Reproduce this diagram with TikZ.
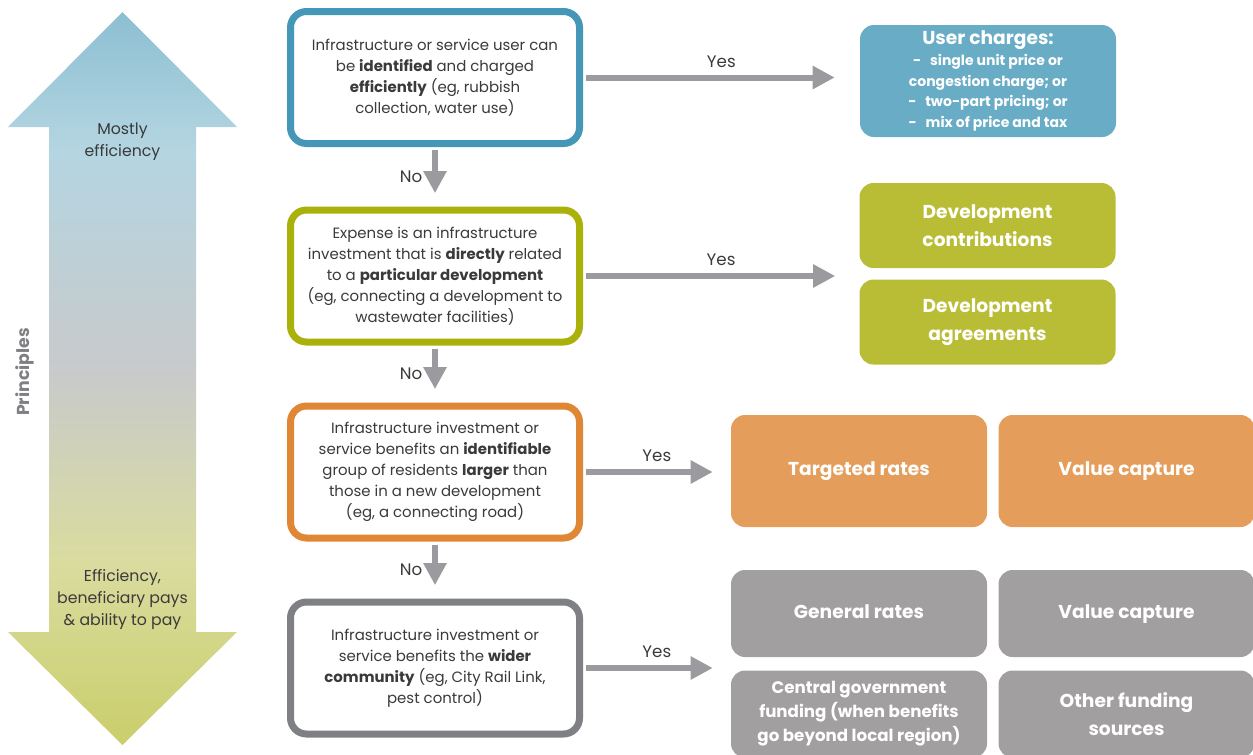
\documentclass[tikz,border=0pt]{standalone}
\usepackage{fontspec}
\setmainfont{Poppins}
\usetikzlibrary{arrows.meta,positioning}
\definecolor{userblue}{HTML}{4597B7}
\definecolor{devolive}{HTML}{A9B10A}
\definecolor{targorange}{HTML}{DF8734}
\definecolor{widegrey}{HTML}{7F8083}
\definecolor{arrgrey}{HTML}{9B9B9F}
\definecolor{userfill}{HTML}{68ACC6}
\definecolor{devfill}{HTML}{B9BD35}
\definecolor{targfill}{HTML}{E49D5A}
\definecolor{widefill}{HTML}{A19FA0}
\definecolor{prtop}{HTML}{8CBFD2}
\definecolor{prhigh}{HTML}{B4D5E1}
\definecolor{prmid}{HTML}{C8CACB}
\definecolor{prlow}{HTML}{D9DC9F}
\definecolor{prbot}{HTML}{CACE6A}
\definecolor{prtext}{HTML}{3A3A3C}
\pgfdeclareverticalshading{principles}{100bp}{color(0bp)=(prbot); color(25bp)=(prbot);
  color(37.6bp)=(prlow); color(50.6bp)=(prmid); color(65.6bp)=(prhigh);
  color(75bp)=(prtop); color(100bp)=(prtop)}

\begin{document}
\begin{tikzpicture}[
  x=0.75pt,y=-0.75pt,
  decbox/.style={draw,rounded corners=12pt,line width=5.25pt,fill=white,
                 minimum width=216.75pt,minimum height=99pt,align=center,
                 text=prtext,font=\fontsize{11.2}{15.8}\selectfont},
  user/.style={decbox,draw=userblue},
  dev/.style={decbox,draw=devolive},
  targ/.style={decbox,draw=targorange},
  wide/.style={decbox,draw=widegrey},
  fundbox/.style={rounded corners=10.5pt,minimum width=192pt,align=center,
                  text=white,font=\bfseries\fontsize{14}{21}\selectfont},
  oneline/.style={text height=.9em,text depth=.2em},
  arr/.style={-{Triangle[length=16.5pt,width=16.5pt]},line width=4.5pt,arrgrey},
  lbl/.style={text=prtext,font=\fontsize{12.5}{15}\selectfont}
]
\useasboundingbox (0,0) rectangle (1253,754);

% Principles arrow
\path[shading=principles] (122.5,12) -- (237,127) -- (196,127) -- (196,632) -- (237,632)
  -- (122.5,745) -- (8,632) -- (49,632) -- (49,127) -- (8,127) -- cycle;
\node[lbl,align=center,font=\fontsize{11.8}{16.5}\selectfont] (top) at (122.5,142) {Mostly\\efficiency};
\node[lbl,align=center,font=\fontsize{11.8}{16.5}\selectfont] (bot) at (122.5,600)
  {Efficiency,\\beneficiary pays\\\& ability to pay};
\node[rotate=90,text=widegrey,font=\bfseries\fontsize{13}{15}\selectfont] (pr) at (25,372) {Principles};

% Decision boxes
\node[user] (q1) at (435,77.5) {Infrastructure or service user can\\be \textbf{identified} and charged\\
  \textbf{efficiently} (eg, rubbish\\collection, water use)};
\node[dev] (q2) at (435,276) {Expense is an infrastructure\\investment that is \textbf{directly} related\\
  to a \textbf{particular development}\\(eg, connecting a development to\\wastewater facilities)};
\node[targ] (q3) at (435,472) {Infrastructure investment or\\service benefits an \textbf{identifiable}\\
  group of residents \textbf{larger} than\\those in a new development\\(eg, a connecting road)};
\node[wide] (q4) at (435,668) {Infrastructure investment or\\service benefits the \textbf{wider}\\
  \textbf{community} (eg, City Rail Link,\\pest control)};

% Funding tools
\node[fundbox,fill=userfill,minimum height=84pt,font=\bfseries\fontsize{10.5}{15.7}\selectfont] (uc) at (988,81)
  {{\fontsize{14}{16}\selectfont User charges:}\\[0pt]
   -\ \ \ single unit price or\\congestion charge; or\\
   -\ \ \ two-part pricing; or\\-\ \ \ mix of price and tax};
\node[fundbox,fill=devfill,minimum height=63.75pt] (dc) at (987.5,225.5) {Development\\contributions};
\node[fundbox,fill=devfill,minimum height=63.75pt,below=8.25pt of dc] (da) {Development\\agreements};
\node[fundbox,oneline,fill=targfill,minimum height=84pt] (tr) at (859,471) {Targeted rates};
\node[fundbox,oneline,fill=targfill,minimum height=84pt,right=8.25pt of tr] (vc) {Value capture};
\node[fundbox,oneline,fill=widefill,minimum height=65.25pt] (gr) at (859,613.5) {General rates};
\node[fundbox,oneline,fill=widefill,minimum height=65.25pt,right=8.25pt of gr] (vcw) {Value capture};
\node[fundbox,fill=widefill,minimum height=65.25pt,below=9.75pt of gr,
      font=\bfseries\fontsize{12.5}{18}\selectfont] (cg)
  {Central government\\funding (when benefits\\go beyond local region)};
\node[fundbox,fill=widefill,minimum height=65.25pt,right=8.25pt of cg] (of) {Other funding\\sources};

% No arrows
\draw[arr,shorten <=2.6pt,shorten >=10pt] (q1) -- (q2) node[lbl,midway,left=4pt] {No};
\draw[arr,shorten <=2.6pt,shorten >=10pt] (q2) -- (q3) node[lbl,midway,left=4pt] {No};
\draw[arr,shorten <=2.6pt,shorten >=10pt] (q3) -- (q4) node[lbl,midway,left=4pt] {No};

% Yes arrows
\draw[arr,shorten <=2.6pt,shorten >=18.75pt] (q1.east) -- (q1.east -| uc.west)
  node[lbl,midway,above=2pt] {Yes};
\draw[arr,shorten <=2.6pt,shorten >=18pt] (q2.east) -- (q2.east -| dc.west)
  node[lbl,midway,above=2pt] {Yes};
\draw[arr,shorten <=2.6pt,shorten >=13.5pt] (q3.east) -- (q3.east -| tr.west)
  node[lbl,midway,above=2pt] {Yes};
\draw[arr,shorten <=2.6pt,shorten >=13.5pt] (q4.east) -- (q4.east -| gr.west)
  node[lbl,midway,above=2pt] {Yes};

\end{tikzpicture}
\end{document}
